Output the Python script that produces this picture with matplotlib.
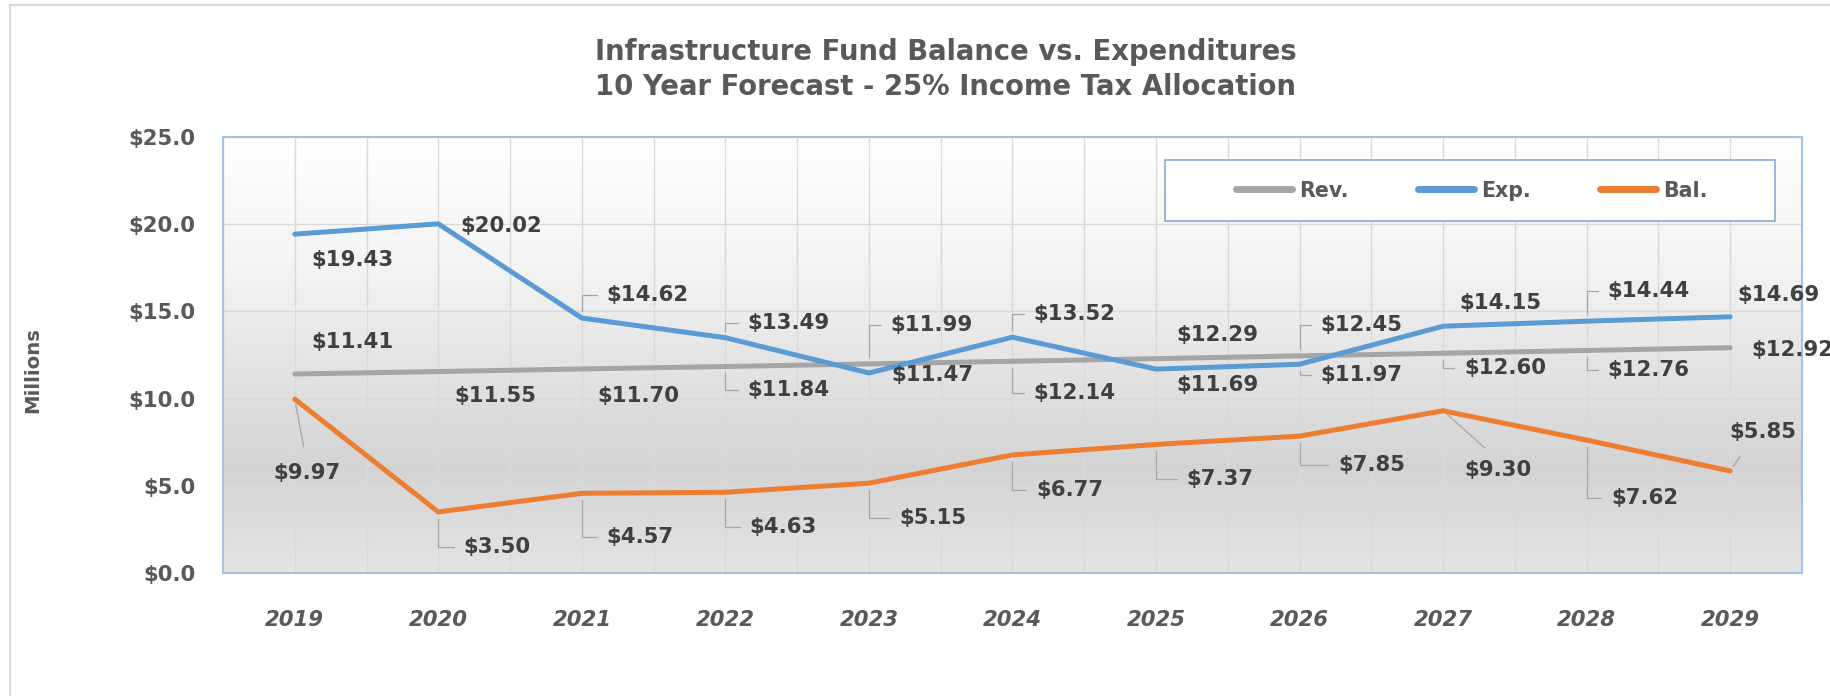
import numpy as np
import matplotlib
matplotlib.use("Agg")
import matplotlib.pyplot as plt
from matplotlib.lines import Line2D
from matplotlib.colors import LinearSegmentedColormap

# ---------------- data ----------------
years = ["2019", "2020", "2021", "2022", "2023", "2024", "2025", "2026", "2027", "2028", "2029"]
rev = [11.41, 11.55, 11.70, 11.84, 11.99, 12.14, 12.29, 12.45, 12.60, 12.76, 12.92]
exp_ = [19.43, 20.02, 14.62, 13.49, 11.47, 13.52, 11.69, 11.97, 14.15, 14.44, 14.69]
bal = [9.97, 3.50, 4.57, 4.63, 5.15, 6.77, 7.37, 7.85, 9.30, 7.62, 5.85]
series_names = ["Rev.", "Exp.", "Bal."]
title1 = "Infrastructure Fund Balance vs. Expenditures"
title2 = "10 Year Forecast - 25% Income Tax Allocation"
y_ticks = [0, 5, 10, 15, 20, 25]

# label offsets (pixels, screen: +x right, +y down) and leader style
rev_off = [(58, -32), (57, 24), (57, 27), (63, 23), (63, -39), (62, 32), (61, -24), (62, -31), (62, 15), (62, 20), (62, 2)]
rev_lead = ["n", "n", "n", "a", "a", "a", "n", "a", "a", "a", "n"]
exp_off = [(58, 26), (63, 2), (66, -23), (63, -15), (63, 2), (62, -23), (61, 16), (62, 11), (57, -23), (62, -30), (48, -22)]
exp_lead = ["n", "n", "a", "a", "n", "a", "n", "a", "n", "a", "n"]
bal_off = [(12, 74), (59, 35), (58, 44), (58, 35), (64, 35), (57, 35), (64, 35), (72, 29), (55, 59), (58, 58), (33, -39)]
bal_lead = ["s", "a", "a", "a", "a", "a", "a", "a", "s", "a", "s"]
straight_relpos = {0: (0.5, 1.0), 8: (0.5, 1.0), 10: (0.3, 0.0)}

# ---------------- style ----------------
W, H, DPI = 1831, 696, 100
FONT = ["DejaVu Sans"]
plt.rcParams["font.family"] = FONT
TXT = "#595959"
LBL = "#404040"
colors = {"Rev.": "#a5a5a5", "Exp.": "#5b9bd5", "Bal.": "#ed7d31"}

fig = plt.figure(figsize=(W / DPI, H / DPI), dpi=DPI)
fig.patch.set_facecolor("white")

# outer chart border (left and top visible)
fig.add_artist(Line2D([10 / W, 10 / W], [0, 1 - 5 / H], color="#d9d9d9", lw=1.5, transform=fig.transFigure))
fig.add_artist(Line2D([10 / W, 1], [1 - 5 / H, 1 - 5 / H], color="#d9d9d9", lw=1.5, transform=fig.transFigure))

left, right, top, bottom = 223, 1802, 137, 573
ax = fig.add_axes([left / W, 1 - bottom / H, (right - left) / W, (bottom - top) / H])

x = np.arange(len(years))
ax.set_xlim(-0.5, len(years) - 0.5)

# gradient background (white at top, grey lower down, slightly lighter at the bottom)
cmap = LinearSegmentedColormap.from_list(
    "bg", [(0.0, (1, 1, 1)), (0.3, (0.955, 0.955, 0.955)), (0.76, (0.83, 0.83, 0.83)), (1.0, (0.9, 0.895, 0.895))])
grad = np.linspace(0, 1, 256).reshape(-1, 1)
ax.imshow(grad, cmap=cmap, aspect="auto", extent=[-0.5, len(years) - 0.5, 0, 25], zorder=0, origin="upper")
ax.set_ylim(0, 25)

# grid
ax.set_yticks(y_ticks)
ax.set_yticklabels(["${:.1f}".format(v) for v in y_ticks])
ax.set_xticks(x)
ax.set_xticklabels(years)
ax.set_xticks(np.arange(-0.5, len(years), 1.0), minor=True)
ax.grid(True, which="major", color="#d9d9d9", lw=1.0, zorder=1)
ax.grid(True, which="minor", axis="x", color="#d9d9d9", lw=1.0, zorder=1)
ax.set_axisbelow(True)
ax.tick_params(which="both", length=0)
ax.tick_params(axis="y", pad=20, labelsize=15.3, labelcolor=TXT)
ax.tick_params(axis="x", pad=27, labelsize=15.3, labelcolor=TXT)
for t in ax.get_xticklabels():
    t.set_fontweight("bold")
    t.set_fontstyle("italic")
for t in ax.get_yticklabels():
    t.set_fontweight("bold")
for s in ax.spines.values():
    s.set_color("#a4c2e6")
    s.set_linewidth(1.5)

# lines
data = {"Rev.": rev, "Exp.": exp_, "Bal.": bal}
for name in series_names:
    ax.plot(x, data[name], color=colors[name], lw=3.6, solid_capstyle="round", solid_joinstyle="round", zorder=3)


def add_labels(vals, offs, leads):
    for i, (v, (dx, dy), ld) in enumerate(zip(vals, offs, leads)):
        kw = {}
        if ld == "a":
            kw["arrowprops"] = dict(arrowstyle="-", color="#a6a6a6", lw=0.9,
                                    connectionstyle="angle,angleA=0,angleB=90,rad=0",
                                    relpos=(0.0, 0.5), shrinkA=5, shrinkB=5)
        elif ld == "s":
            kw["arrowprops"] = dict(arrowstyle="-", color="#a6a6a6", lw=0.9,
                                    connectionstyle="arc3", relpos=straight_relpos.get(i, (0.5, 1.0)),
                                    shrinkA=10, shrinkB=4)
        ax.annotate("${:.2f}".format(v), xy=(i, v), xytext=(dx, -dy), textcoords="offset pixels",
                    ha="center", va="center", fontsize=15.3, fontweight="bold", color=LBL,
                    zorder=5, annotation_clip=False, **kw)


add_labels(rev, rev_off, rev_lead)
add_labels(exp_, exp_off, exp_lead)
add_labels(bal, bal_off, bal_lead)

# legend box
lx0, lx1, ly0, ly1 = 1165, 1775, 160, 221
fig.add_artist(plt.Rectangle((lx0 / W, 1 - ly1 / H), (lx1 - lx0) / W, (ly1 - ly0) / H,
                             transform=fig.transFigure, facecolor="white", edgecolor="#8fb0dc", lw=1.3, zorder=6))
handles = [Line2D([], [], color=colors[n], lw=5, solid_capstyle="round") for n in series_names]
leg = fig.legend(handles, series_names, loc="center", ncol=3,
                 bbox_to_anchor=((lx0 + lx1) / 2 / W + 0.001, 1 - (ly0 + ly1) / 2 / H),
                 frameon=False, handlelength=2.7, handletextpad=0.35, columnspacing=3.4,
                 prop={"family": FONT, "size": 14.8, "weight": "bold"})
leg.set_zorder(7)
for t in leg.get_texts():
    t.set_color(TXT)

# titles and axis label
fig.text(946 / W, 1 - 60 / H, title1, ha="center", va="baseline", fontsize=19.8, fontweight="bold", color=TXT)
fig.text(946 / W, 1 - 95 / H, title2, ha="center", va="baseline", fontsize=19.8, fontweight="bold", color=TXT)
fig.text(33 / W, 1 - 370 / H, "Millions", rotation=90, ha="center", va="center",
         fontsize=14.2, fontweight="bold", color=TXT)

fig.savefig("out.png", dpi=DPI)
